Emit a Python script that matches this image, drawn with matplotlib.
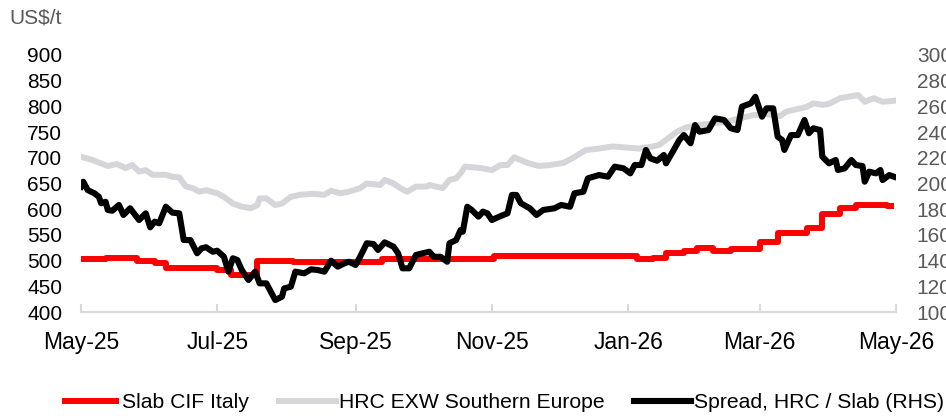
import matplotlib
matplotlib.use('Agg')
import matplotlib.pyplot as plt
import matplotlib.dates as mdates
import pandas as pd

plt.rcParams['font.family'] = ['Liberation Sans', 'DejaVu Sans']

RED = '#FF0000'
GREY = '#D6D6DA'
BLACK = '#000000'
AXIS = '#D9D9D9'
LABEL_GREY = '#595959'

# --- Slab CIF Italy (US$/t, weekly steps) ---------------------------------
SLAB_DATES = ['2025-05-01', '2025-05-12', '2025-05-26', '2025-06-03', '2025-06-08',
              '2025-07-01', '2025-07-07', '2025-07-19', '2025-08-04', '2025-09-13',
              '2025-10-27', '2025-11-02', '2026-01-05', '2026-01-12', '2026-01-18',
              '2026-01-26', '2026-02-01', '2026-02-08', '2026-02-16', '2026-03-01',
              '2026-03-09', '2026-03-22', '2026-03-29', '2026-04-06', '2026-04-13',
              '2026-04-27', '2026-04-30']
SLAB_VALUES = [503, 506, 499, 496, 486, 482, 472, 500, 497, 503,
               504, 509, 503, 506, 514, 519, 524, 519, 522, 536,
               554, 563, 591, 602, 608, 606, 606]

# --- HRC EXW Southern Europe (US$/t) --------------------------------------
HRC_DATES = ['2025-05-01', '2025-05-06', '2025-05-13', '2025-05-17', '2025-05-21',
             '2025-05-24', '2025-05-27', '2025-05-30', '2025-06-02', '2025-06-08',
             '2025-06-11', '2025-06-14', '2025-06-17', '2025-06-20', '2025-06-23',
             '2025-06-26', '2025-07-01', '2025-07-04', '2025-07-08', '2025-07-12',
             '2025-07-16', '2025-07-19', '2025-07-20', '2025-07-23', '2025-07-27',
             '2025-07-30', '2025-08-03', '2025-08-07', '2025-08-13', '2025-08-18',
             '2025-08-21', '2025-08-25', '2025-08-29', '2025-09-03', '2025-09-06',
             '2025-09-12', '2025-09-14', '2025-09-18', '2025-09-21', '2025-09-24',
             '2025-09-28', '2025-10-03', '2025-10-04', '2025-10-10', '2025-10-13',
             '2025-10-16', '2025-10-18', '2025-10-20', '2025-10-27', '2025-11-01',
             '2025-11-05', '2025-11-08', '2025-11-11', '2025-11-17', '2025-11-22',
             '2025-11-27', '2025-12-03', '2025-12-07', '2025-12-13', '2025-12-19',
             '2025-12-25', '2025-12-31', '2026-01-06', '2026-01-12', '2026-01-15',
             '2026-01-18', '2026-01-23', '2026-01-27', '2026-02-02', '2026-02-08',
             '2026-02-14', '2026-02-20', '2026-02-26', '2026-03-04', '2026-03-10',
             '2026-03-13', '2026-03-16', '2026-03-22', '2026-03-25', '2026-03-29',
             '2026-04-01', '2026-04-06', '2026-04-10', '2026-04-14', '2026-04-17',
             '2026-04-21', '2026-04-25', '2026-04-30']
HRC_VALUES = [702, 696, 684, 688, 680, 686, 673, 676, 667, 667,
              663, 662, 644, 641, 634, 637, 631, 624, 611, 605,
              602, 608, 621, 621, 608, 611, 624, 628, 630, 628,
              636, 631, 634, 641, 650, 647, 657, 650, 641, 634,
              644, 644, 647, 641, 657, 660, 670, 683, 680, 676,
              686, 686, 701, 690, 684, 686, 690, 699, 715, 718,
              722, 720, 718, 722, 725, 735, 751, 759, 764, 767,
              770, 777, 783, 785, 781, 790, 793, 799, 806, 803,
              805, 816, 819, 822, 809, 816, 809, 811]

# --- Spread, HRC / Slab (US$/t, RHS) --------------------------------------
SPREAD_DATES = ['2025-05-01', '2025-05-02', '2025-05-04', '2025-05-07', '2025-05-09',
                '2025-05-10', '2025-05-12', '2025-05-13', '2025-05-15', '2025-05-18',
                '2025-05-20', '2025-05-23', '2025-05-27', '2025-05-30', '2025-06-01',
                '2025-06-03', '2025-06-05', '2025-06-08', '2025-06-11', '2025-06-14',
                '2025-06-16', '2025-06-19', '2025-06-22', '2025-06-24', '2025-06-26',
                '2025-06-29', '2025-07-01', '2025-07-04', '2025-07-06', '2025-07-08',
                '2025-07-10', '2025-07-12', '2025-07-15', '2025-07-18', '2025-07-20',
                '2025-07-23', '2025-07-27', '2025-07-30', '2025-07-31', '2025-08-03',
                '2025-08-05', '2025-08-09', '2025-08-12', '2025-08-15', '2025-08-18',
                '2025-08-21', '2025-08-24', '2025-08-27', '2025-08-29', '2025-09-01',
                '2025-09-03', '2025-09-06', '2025-09-09', '2025-09-11', '2025-09-14',
                '2025-09-18', '2025-09-20', '2025-09-22', '2025-09-25', '2025-09-28',
                '2025-10-01', '2025-10-04', '2025-10-06', '2025-10-09', '2025-10-12',
                '2025-10-13', '2025-10-16', '2025-10-18', '2025-10-19', '2025-10-21',
                '2025-10-23', '2025-10-26', '2025-10-28', '2025-10-30', '2025-11-01',
                '2025-11-05', '2025-11-08', '2025-11-10', '2025-11-12', '2025-11-14',
                '2025-11-18', '2025-11-21', '2025-11-24', '2025-11-29', '2025-12-02',
                '2025-12-06', '2025-12-08', '2025-12-12', '2025-12-14', '2025-12-19',
                '2025-12-23', '2025-12-26', '2025-12-30', '2026-01-02', '2026-01-04',
                '2026-01-07', '2026-01-09', '2026-01-11', '2026-01-14', '2026-01-17',
                '2026-01-18', '2026-01-21', '2026-01-24', '2026-01-26', '2026-01-29',
                '2026-01-31', '2026-02-02', '2026-02-06', '2026-02-09', '2026-02-13',
                '2026-02-16', '2026-02-19', '2026-02-21', '2026-02-25', '2026-02-27',
                '2026-02-28', '2026-03-02', '2026-03-04', '2026-03-07', '2026-03-09',
                '2026-03-11', '2026-03-12', '2026-03-15', '2026-03-18', '2026-03-21',
                '2026-03-23', '2026-03-25', '2026-03-28', '2026-03-29', '2026-04-01',
                '2026-04-04', '2026-04-05', '2026-04-08', '2026-04-11', '2026-04-13',
                '2026-04-16', '2026-04-17', '2026-04-19', '2026-04-22', '2026-04-24',
                '2026-04-25', '2026-04-28', '2026-04-30']
SPREAD_VALUES = [197.5, 201.4, 194.9, 192.4, 189.7, 184.6, 185.8, 179.4, 178.8, 183.3,
                 175.5, 180.7, 171.6, 176.8, 165.9, 170.3, 169.0, 181.9, 177.3, 176.8,
                 156.0, 156.0, 145.7, 149.6, 150.4, 146.9, 147.7, 143.0, 131.4, 141.8,
                 140.5, 132.7, 124.9, 131.4, 122.3, 122.3, 109.3, 111.9, 118.4, 119.7,
                 131.4, 130.1, 133.2, 132.7, 131.4, 139.9, 135.3, 137.9, 139.1, 136.6,
                 143.0, 153.5, 152.9, 148.3, 154.2, 150.8, 145.7, 134.0, 134.0, 144.4,
                 145.7, 146.9, 143.0, 143.0, 139.1, 153.5, 156.0, 163.8, 162.5, 181.9,
                 179.4, 174.2, 178.1, 176.8, 171.6, 174.7, 176.8, 191.1, 191.1, 184.6,
                 180.7, 175.5, 179.4, 180.7, 183.3, 181.9, 192.4, 193.6, 204.0, 206.6,
                 205.3, 213.1, 211.8, 207.9, 214.4, 214.4, 226.1, 219.6, 217.7, 222.2,
                 215.7, 224.7, 233.9, 237.7, 231.3, 245.5, 240.3, 241.6, 250.7, 249.4,
                 243.0, 241.6, 259.8, 262.4, 267.5, 262.4, 252.0, 258.5, 258.5, 236.4,
                 233.9, 226.1, 237.7, 237.7, 249.4, 239.1, 243.0, 241.6, 220.9, 215.7,
                 218.3, 210.5, 211.8, 218.3, 214.4, 213.6, 201.4, 209.2, 207.9, 210.5,
                 202.7, 206.6, 205.3]

LEFT_TICKS = list(range(400, 901, 50))
RIGHT_TICKS = list(range(100, 301, 20))
X_START, X_END = '2025-05-01', '2026-05-01'

fig = plt.figure(figsize=(9.46, 4.16), dpi=100, facecolor='white')
ax = fig.add_axes([81 / 946, 1 - 312 / 416, 815 / 946, 257 / 416])
ax2 = ax.twinx()

l_slab, = ax.plot(pd.to_datetime(SLAB_DATES), SLAB_VALUES, color=RED, lw=4.3,
                  drawstyle='steps-post', solid_capstyle='butt', zorder=2)
l_hrc, = ax.plot(pd.to_datetime(HRC_DATES), HRC_VALUES, color=GREY, lw=4.3,
                 solid_joinstyle='round', zorder=1)
l_spread, = ax2.plot(pd.to_datetime(SPREAD_DATES), SPREAD_VALUES, color=BLACK, lw=4.4,
                     solid_joinstyle='round')

ax.set_xlim(pd.Timestamp(X_START), pd.Timestamp(X_END))
ax.set_ylim(400, 900)
ax2.set_ylim(100, 300)
ax.set_yticks(LEFT_TICKS)
ax2.set_yticks(RIGHT_TICKS)

ax.xaxis.set_major_locator(mdates.MonthLocator(bymonth=[1, 3, 5, 7, 9, 11]))
ax.xaxis.set_major_formatter(mdates.DateFormatter('%b-%y'))

for s in ['top', 'left', 'right']:
    ax.spines[s].set_visible(False)
for s in ax2.spines.values():
    s.set_visible(False)
ax.spines['bottom'].set_color(AXIS)
ax.spines['bottom'].set_linewidth(1.5)

ax.tick_params(axis='x', direction='in', length=6, width=1.5, color=AXIS,
               labelsize=16.5, labelcolor='black', pad=14)
ax.tick_params(axis='y', length=0, labelsize=15, labelcolor='black', pad=13.5)
ax2.tick_params(axis='y', length=0, labelsize=15, labelcolor=LABEL_GREY, pad=15)

fig.text(62 / 946, 1 - 18 / 416, 'US$/t', ha='right', va='center',
         fontsize=15, color=LABEL_GREY)

fig.legend([l_slab, l_hrc, l_spread],
           ['Slab CIF Italy', 'HRC EXW Southern Europe', 'Spread, HRC / Slab (RHS)'],
           loc='center left', bbox_to_anchor=(62 / 946, 1 - 403 / 416),
           ncol=3, frameon=False, fontsize=15.2, handlelength=2.7,
           handletextpad=0.15, columnspacing=1.4, borderpad=0, borderaxespad=0)

fig.savefig('out.png', dpi=100, facecolor='white')
